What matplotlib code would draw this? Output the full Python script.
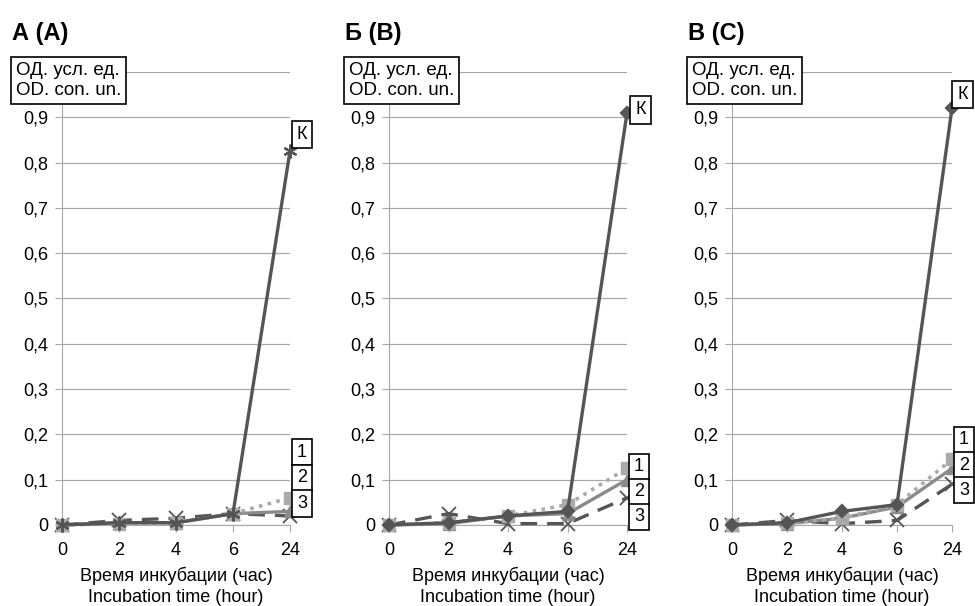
import matplotlib.pyplot as plt

plt.rcParams['font.family'] = ['Liberation Sans', 'DejaVu Sans']

# ── Data ──
hours = ["0", "2", "4", "6", "24"]
panel_titles = ["А (A)", "Б (B)", "В (C)"]

k_a = [0.0, 0.005, 0.005, 0.025, 0.825]
s1_a = [0.0, 0.003, 0.005, 0.025, 0.06]
s2_a = [0.0, 0.005, 0.005, 0.025, 0.03]
s3_a = [0.0, 0.010, 0.015, 0.025, 0.02]

k_b = [0.0, 0.005, 0.02, 0.03, 0.91]
s1_b = [0.0, 0.005, 0.02, 0.045, 0.125]
s2_b = [0.0, 0.003, 0.02, 0.025, 0.10]
s3_b = [0.0, 0.025, 0.003, 0.003, 0.06]

k_c = [0.0, 0.005, 0.03, 0.045, 0.92]
s1_c = [0.0, 0.005, 0.015, 0.045, 0.145]
s2_c = [0.0, 0.003, 0.015, 0.04, 0.125]
s3_c = [0.0, 0.010, 0.003, 0.010, 0.09]

panels = [(k_a, s1_a, s2_a, s3_a), (k_b, s1_b, s2_b, s3_b), (k_c, s1_c, s2_c, s3_c)]

yticks = [0, 0.1, 0.2, 0.3, 0.4, 0.5, 0.6, 0.7, 0.8, 0.9, 1.0]
ytick_labels = ["0", "0,1", "0,2", "0,3", "0,4", "0,5", "0,6", "0,7", "0,8", "0,9", ""]

# ── Layout (figure fractions / offsets) ──
rects = [[0.0636, 0.1337, 0.2338, 0.7475],
         [0.3990, 0.1337, 0.2441, 0.7475],
         [0.7508, 0.1337, 0.2256, 0.7475]]
title_x = [12 / 975, 345 / 975, 688 / 975]
num_box_y = [[0.161, 0.104, 0.047], [0.128, 0.073, 0.018], [0.188, 0.132, 0.077]]
k_offset = [(5, 12), (6, 2), (4, 10)]
k_marker = [(6, 2, 0), "D", "D"]
k_msize = [10, 6.5, 6.5]

fig = plt.figure(figsize=(9.75, 6.06), dpi=100)
x = list(range(len(hours)))

for i, (k, s1, s2, s3) in enumerate(panels):
    ax = fig.add_axes(rects[i])
    ax.set_xlim(0, 4)
    ax.set_ylim(0, 1.0)

    # series 3 - dashed, x markers
    ax.plot(x, s3, color="#555555", linestyle=(0, (5, 3)), linewidth=2.4,
            marker="x", markersize=10, markeredgewidth=1.3, clip_on=False, zorder=3)
    # series 2 - solid mid gray, triangles
    ax.plot(x, s2, color="#8a8a8a", linewidth=2.4, marker="^", markersize=9, clip_on=False, zorder=4)
    # series 1 - dotted light gray, squares
    ax.plot(x, s1, color="#aaaaaa", linestyle=(0, (1, 1.5)), linewidth=2.6,
            marker="s", markersize=9, clip_on=False, zorder=5)
    # control K
    ax.plot(x, k, color="#555555", linewidth=2.4, marker=k_marker[i], markersize=k_msize[i],
            markeredgewidth=1.6, clip_on=False, zorder=6)

    ax.set_yticks(yticks)
    ax.set_yticklabels(ytick_labels, fontsize=13)
    ax.set_xticks(x)
    ax.set_xticklabels(hours, fontsize=13)
    ax.tick_params(axis="y", length=5, color="#a8a8a8", pad=5)
    ax.tick_params(axis="x", length=5, color="#a8a8a8", pad=7)
    ax.grid(axis="y", color="#a8a8a8", linewidth=0.9)
    ax.set_axisbelow(True)
    for side in ["top", "right"]:
        ax.spines[side].set_visible(False)
    ax.spines["left"].set_color("#a8a8a8")
    ax.spines["bottom"].set_color("#a8a8a8")

    ax.set_xlabel("Время инкубации (час)\nIncubation time (hour)", fontsize=13, labelpad=6,
                  linespacing=1.3)

    # K label
    ax.annotate("К", xy=(4, k[4]), xytext=k_offset[i], textcoords="offset points",
                fontsize=13, ha="left", va="center", annotation_clip=False, zorder=10,
                bbox=dict(boxstyle="square,pad=0.28", fc="white", ec="black", lw=1.2))
    # 1/2/3 labels
    for j, lab in enumerate(["1", "2", "3"]):
        ax.annotate(lab, xy=(4, num_box_y[i][j]), xytext=(5, 0), textcoords="offset points",
                    fontsize=13, ha="left", va="center", annotation_clip=False, zorder=10,
                    bbox=dict(boxstyle="square,pad=0.26", fc="white", ec="black", lw=1.2))

    # unit box top-left
    fig.text(title_x[i] + 4 / 975, 0.867, "ОД. усл. ед.\nOD. con. un.", fontsize=13.5,
             ha="left", va="center", linespacing=1.25, zorder=10,
             bbox=dict(boxstyle="square,pad=0.25", fc="white", ec="black", lw=1.2))
    fig.text(title_x[i], 0.945, panel_titles[i], fontsize=17, fontweight="bold",
             ha="left", va="center")

plt.savefig("out.png", dpi=100)
